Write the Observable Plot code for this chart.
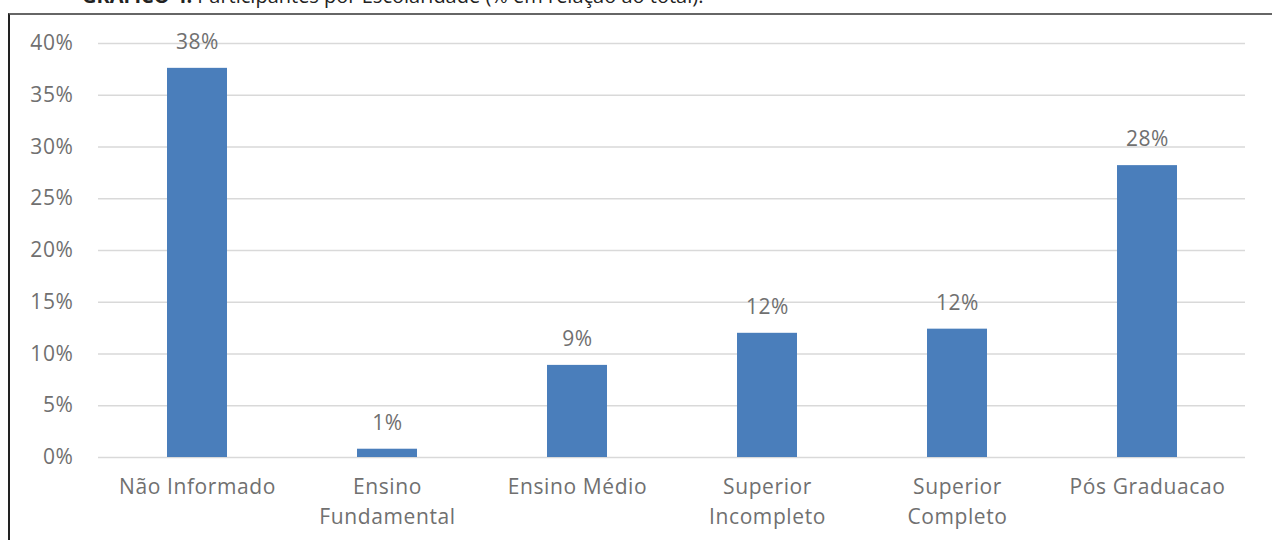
<!DOCTYPE html>
<html><head><meta charset="utf-8">
<script src="https://cdn.jsdelivr.net/npm/d3@7"></script>
<script src="https://cdn.jsdelivr.net/npm/@observablehq/plot@0.6"></script>
<style>
body{margin:0;width:1272px;height:540px;overflow:hidden;background:#fff;position:relative;font-family:"Open Sans",sans-serif;}
#title{position:absolute;left:82px;top:-18px;font-size:20px;color:#222;white-space:nowrap;}
#frame{position:absolute;left:8px;top:13px;width:1300px;height:600px;border-left:2px solid #222;border-top:2px solid #666;}
#chart{position:absolute;left:0;top:0;}
</style></head><body>
<div id="title"><b>GRÁFICO 4:</b> Participantes por Escolaridade (% em relação ao total).</div>
<div id="frame"></div>
<div id="chart"></div>
<script>
const categories = ["Não Informado","Ensino Fundamental","Ensino Médio","Superior Incompleto","Superior Completo","Pós Graduacao"];
const categoryLabels = ["Não Informado","Ensino\nFundamental","Ensino Médio","Superior\nIncompleto","Superior\nCompleto","Pós Graduacao"];
const values = [37.6, 0.8, 8.9, 12.0, 12.4, 28.2];
const valueLabels = ["38%","1%","9%","12%","12%","28%"];
const yTicks = [0,5,10,15,20,25,30,35,40];

const data = categories.map((c,i)=>({cat:c,label:categoryLabels[i],value:values[i],text:valueLabels[i]}));
const textColor = "#707070";
const chart = Plot.plot({
  width:1272, height:540,
  marginLeft:98, marginRight:27, marginTop:43, marginBottom:83,
  style:{fontFamily:"'Open Sans', sans-serif", fontSize:"21px", color:textColor, background:"transparent", overflow:"visible", letterSpacing:"0.6px"},
  x:{domain:categories, paddingInner:0.685, paddingOuter:0.35, axis:null},
  y:{domain:[0,40], ticks:yTicks, tickFormat:d=>d+"%", tickSize:0, tickPadding:25, label:null},
  marks:[
    Plot.gridY(yTicks,{stroke:"#d9d9d9",strokeOpacity:1,strokeWidth:1.5}),
    Plot.barY(data,{x:"cat",y:"value",fill:"#4a7ebb"}),
    Plot.text(data,{x:"cat",y:"value",text:"text",dy:-26,fill:textColor,fontSize:21}),
    Plot.text(data,{x:"cat",text:"label",frameAnchor:"bottom",lineAnchor:"top",dy:15,lineHeight:1.43,fill:textColor,fontSize:21})
  ]
});
document.getElementById("chart").appendChild(chart);
</script>
</body></html>
